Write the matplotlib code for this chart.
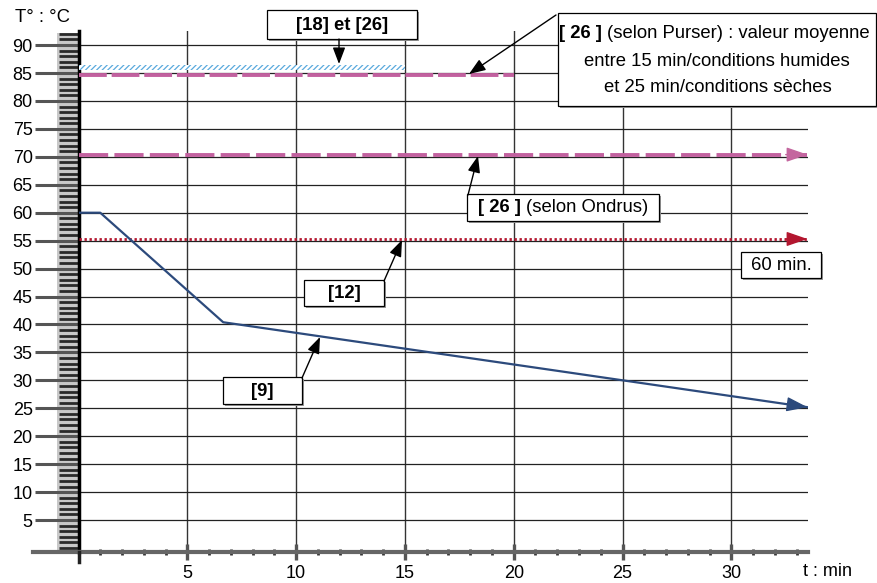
import matplotlib
matplotlib.use('Agg')
import matplotlib.pyplot as plt
from matplotlib.patches import Rectangle
from matplotlib.lines import Line2D
import numpy as np

plt.rcParams['font.family'] = ['Liberation Sans', 'DejaVu Sans']
plt.rcParams['lines.scale_dashes'] = False
plt.rcParams['hatch.linewidth'] = 0.9

# ---------------- data ----------------
t_ref9 = [0, 1, 6.65, 33.5]
T_ref9 = [60, 60, 40.4, 25.2]
t_ref12 = [0, 33.5]
T_ref12 = 55.3
t_ondrus = [0, 33.5]
T_ondrus = 70.4
t_purser = [0, 20]
T_purser = 84.7
t_band = [0, 15]
T_band = [85.6, 86.4]
xticks = [5, 10, 15, 20, 25, 30]
yticks = list(range(5, 95, 5))

# ---------------- layout ----------------
W, H = 877, 583
fig = plt.figure(figsize=(W / 100, H / 100), dpi=100)
L, R, B, T = 78.5, 808, 552, 31
PXX, PXY, Y0 = 21.76, 5.588, 548
ax = fig.add_axes([L / W, 1 - B / H, (R - L) / W, (B - T) / H])
ax.set_xlim(0, (R - L) / PXX)
ax.set_ylim((Y0 - B) / PXY, (Y0 - T) / PXY)


def fx(px):
    return px / W


def fy(py):
    return 1 - py / H


# ruler background
fig.add_artist(Rectangle((fx(57), fy(552)), 21 / W, (552 - 33) / H,
                         transform=fig.transFigure, facecolor='#c8c8c8',
                         edgecolor='none', zorder=0))

ax.set_xticks(xticks)
ax.set_xticks(np.arange(1, 34, 1), minor=True)
ax.set_yticks(yticks)
ax.set_yticks(np.arange(0, 93, 1), minor=True)
ax.tick_params(axis='y', which='major', direction='out', length=32, width=2.2,
               color='#555555', pad=1, labelsize=13)
ax.tick_params(axis='y', which='minor', direction='out', length=14.5, width=2.0,
               color='#2a2a2a')
ax.tick_params(axis='x', which='major', direction='inout', length=12, width=2.4,
               color='#555555', pad=3, labelsize=13)
ax.tick_params(axis='x', which='minor', direction='inout', length=5, width=2.0,
               color='#333333')
ax.set_axisbelow(True)
ax.xaxis.grid(True, which='major', color='#333333', lw=1.0)
ax.yaxis.grid(True, which='major', color='#222222', lw=0.9)
for s in ('top', 'right'):
    ax.spines[s].set_visible(False)
ax.spines['left'].set_color('black')
ax.spines['left'].set_linewidth(2.5)
ax.spines['bottom'].set_color('#666666')
ax.spines['bottom'].set_linewidth(3)

fig.add_artist(Line2D([fx(33), fx(L)], [fy(552), fy(552)], color='#666666', lw=3,
                      transform=fig.transFigure))
fig.add_artist(Line2D([fx(L), fx(L)], [fy(552), fy(562)], color='#222222', lw=2.5,
                      transform=fig.transFigure))

# ---------------- series ----------------
ax.fill_between(t_band, T_band[0], T_band[1], facecolor='white',
                edgecolor='#5aa9dd', hatch='//////', lw=0, zorder=3)
mag = '#c2619f'
ax.plot(t_purser, [T_purser] * 2, color=mag, lw=2.8, dashes=(20, 3.5), zorder=4)
ax.plot(t_ondrus, [T_ondrus] * 2, color=mag, lw=2.8, dashes=(21, 4.5), zorder=4)
red = '#b3162f'
ax.plot(t_ref12, [T_ref12] * 2, color=red, lw=2.0, dashes=(1.7, 1.9), zorder=4)
blue = '#2c4a7c'
ax.plot(t_ref9, T_ref9, color=blue, lw=1.6, zorder=5)

head = '-|>,head_length=1.3,head_width=0.45'
for (xs, ys, c) in [
        (t_ondrus, [T_ondrus, T_ondrus], '#c4679f'),
        (t_ref12, [T_ref12, T_ref12], red),
        (t_ref9[-2:], T_ref9[-2:], blue)]:
    xe, ye = xs[-1], ys[-1]
    xb = xe - 1.0
    yb = float(np.interp(xb, xs, ys))
    ax.annotate('', xy=(xe, ye), xytext=(xb, yb),
                arrowprops=dict(arrowstyle=head, mutation_scale=10, fc=c, ec=c,
                                lw=1, shrinkA=0, shrinkB=0),
                annotation_clip=False, zorder=6)

# ---------------- annotations ----------------
FS = 13.3


def box(x0, y0, x1, y1):
    fig.add_artist(Rectangle((fx(x0 + 2), fy(y1 + 2)), (x1 - x0) / W, (y1 - y0) / H,
                             transform=fig.transFigure, facecolor='#9a9a9a',
                             edgecolor='none', zorder=7))
    fig.add_artist(Rectangle((fx(x0), fy(y1)), (x1 - x0) / W, (y1 - y0) / H,
                             transform=fig.transFigure, facecolor='white',
                             edgecolor='black', lw=0.9, zorder=8))


def arrow(x0, y0, x1, y1):
    fig.add_artist(matplotlib.patches.FancyArrowPatch(
        (fx(x0), fy(y0)), (fx(x1), fy(y1)), transform=fig.transFigure,
        arrowstyle='-|>,head_length=1.0,head_width=0.38', mutation_scale=10,
        color='black', lw=1.0, shrinkA=0, shrinkB=0, zorder=9))


def txt(x, y, s, bold=False, ha='center'):
    fig.text(fx(x), fy(y), s, fontsize=FS, ha=ha, va='center',
             fontweight='bold' if bold else 'normal', zorder=10)


# [18] et [26]
box(267, 10, 417, 39)
txt(342, 25, '[18] et [26]', bold=True)
arrow(339, 39, 339, 64)

# Purser
box(558, 13, 876, 106)
txt(559, 34, '[ 26 ]', bold=True, ha='left')
txt(607, 34, '(selon Purser) : valeur moyenne', ha='left')
txt(717, 61, 'entre 15 min/conditions humides')
txt(718, 88, 'et 25 min/conditions sèches')
arrow(556, 15, 469, 74)

# Ondrus
box(467, 194, 659, 221)
txt(478, 208, '[ 26 ]', bold=True, ha='left')
txt(526, 208, '(selon Ondrus)', ha='left')
arrow(468, 195, 478, 156)

# 60 min.
box(741, 252, 821, 278)
txt(781, 266, '60 min.')

# [12]
box(304, 280, 384, 306)
txt(344, 293, '[12]', bold=True)
arrow(384, 281, 402, 240)

# [9]
box(223, 377, 302, 404)
txt(262, 391, '[9]', bold=True)
arrow(302, 378, 320, 337)

# axis titles
fig.text(fx(15), fy(18), 'T° : °C', fontsize=13.3, ha='left', va='center')
fig.text(fx(803), fy(572), 't : min', fontsize=13, ha='left', va='center')

fig.savefig('out.png', dpi=100)
